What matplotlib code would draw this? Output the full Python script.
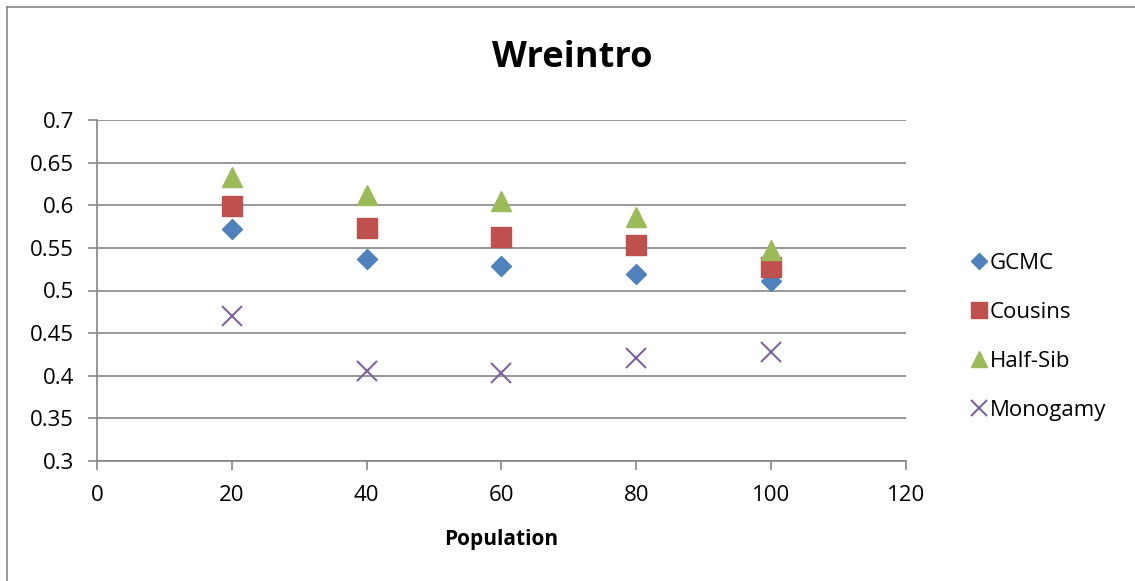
import matplotlib
matplotlib.use("Agg")
import matplotlib.pyplot as plt
from matplotlib.lines import Line2D

plt.rcParams['font.family'] = ['Open Sans', 'DejaVu Sans']

population = [20, 40, 60, 80, 100]
gcmc = [0.572, 0.537, 0.529, 0.519, 0.511]
cousins = [0.599, 0.573, 0.563, 0.553, 0.528]
half_sib = [0.633, 0.612, 0.605, 0.586, 0.548]
monogamy = [0.470, 0.406, 0.403, 0.421, 0.428]

fig = plt.figure(figsize=(11.35, 5.81), dpi=100)
ax = fig.add_axes([0.0855, 0.2065, 0.7125, 0.587])

# chart frame (only left and top edges visible)
fig.add_artist(Line2D([0.0062, 0.0062], [0.0, 0.988], color="#868686", lw=1.2))
fig.add_artist(Line2D([0.0062, 1.0], [0.988, 0.988], color="#868686", lw=1.2))

ax.plot(population, gcmc, linestyle="none", marker="D", ms=10, color="#4F81BD", label="GCMC", zorder=3)
ax.plot(population, cousins, linestyle="none", marker="s", ms=14, color="#C0504D", label="Cousins", zorder=3)
ax.plot(population, half_sib, linestyle="none", marker="^", ms=15, color="#9BBB59", label="Half-Sib", zorder=3)
ax.plot(population, monogamy, linestyle="none", marker="x", ms=14, mew=1.5, color="#8064A2", label="Monogamy", zorder=3)

ax.set_xlim(0, 120)
ax.set_ylim(0.3, 0.7)
ax.set_xticks(range(0, 121, 20))
ax.set_yticks([0.3, 0.35, 0.4, 0.45, 0.5, 0.55, 0.6, 0.65, 0.7])
ax.set_yticklabels(["0.3", "0.35", "0.4", "0.45", "0.5", "0.55", "0.6", "0.65", "0.7"])
ax.grid(axis="y", color="#868686", lw=1.2)
ax.set_axisbelow(True)
for s in ["top", "right"]:
    ax.spines[s].set_visible(False)
for s in ["left", "bottom"]:
    ax.spines[s].set_color("#868686")
    ax.spines[s].set_linewidth(1.2)
ax.tick_params(axis="both", direction="out", length=6.5, width=1.2, color="#868686",
               labelsize=16)
ax.tick_params(axis="y", pad=10)
ax.tick_params(axis="x", pad=11)

ax.set_xlabel("Population", fontsize=15, fontweight="bold", labelpad=16)
fig.text(0.504, 0.8847, "Wreintro", fontsize=26, fontweight="bold", ha="center", va="baseline")

leg = ax.legend(loc="center left", bbox_to_anchor=(1.07, 0.364), frameon=False, fontsize=16,
                labelspacing=1.25, handlelength=0.7, handletextpad=0.15, borderaxespad=0,
                markerscale=0.8)

fig.savefig("out.png", dpi=100)
